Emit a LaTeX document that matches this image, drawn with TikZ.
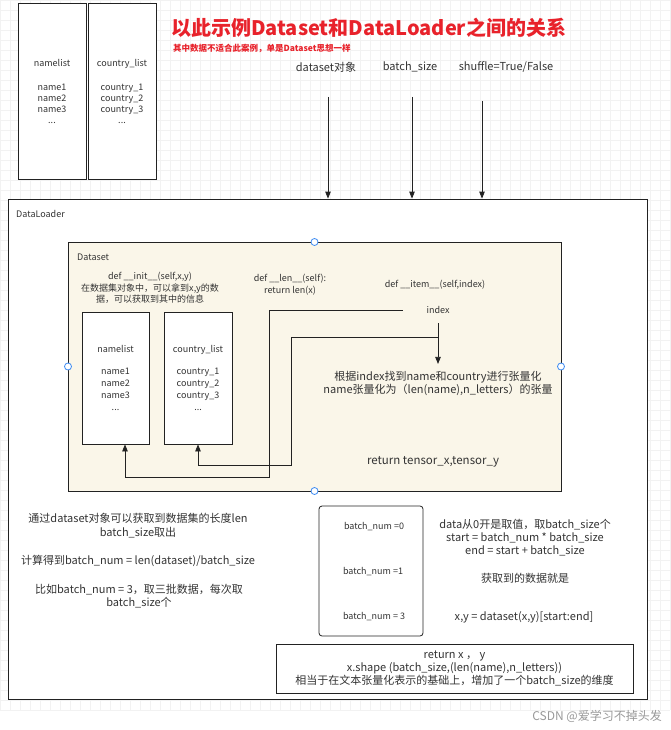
\documentclass[tikz,border=0pt]{standalone}
\usepackage{fontspec}
\setmainfont{Noto Sans CJK SC}
\usetikzlibrary{arrows.meta,calc}
\definecolor{tc}{HTML}{333333}
\definecolor{ln}{HTML}{222222}
\definecolor{cream}{HTML}{FAF6E9}
\definecolor{titlered}{HTML}{E8222B}
\definecolor{handle}{HTML}{3D8BF2}
\definecolor{gridc}{HTML}{F2F2F2}
\tikzset{
  box/.style={draw=ln, line width=0.8pt, fill=white, inner sep=0pt, text=tc, align=center},
  txt/.style={text=tc, align=center, inner sep=0pt},
  sm/.style={font=\fontsize{9}{11.5}\selectfont},
  md/.style={font=\fontsize{11}{13.3}\selectfont},
  arr/.style={draw=ln, line width=0.8pt, -{Triangle[width=5.5pt,length=7pt]}},
  hdl/.style={draw=handle, fill=white, line width=0.8pt, circle, inner sep=0pt, minimum size=7pt}
}
\begin{document}
\begin{tikzpicture}[x=1pt,y=-1pt]
\useasboundingbox (0,0) rectangle (670,730);
\fill[white] (0,0) rectangle (670,730);
\draw[gridc, line width=0.5pt, step=10pt] (0,0) grid (670,710);

% top lists
\node[box, font=\fontsize{9}{11}\selectfont, minimum width=68pt, minimum height=176pt] (tnl) at (52,91)
  {namelist\\[13pt]name1\\name2\\name3\\...};
\node[box, font=\fontsize{9}{11}\selectfont, minimum width=68pt, minimum height=176pt] (tcl) at (122,91)
  {country\_list\\[13pt]country\_1\\country\_2\\country\_3\\...};

% title
\node[anchor=west, inner sep=0pt, text=titlered, font=\fontsize{20}{23}\selectfont\bfseries] (title) at (171,28)
  {以此示例Dataset和DataLoader之间的关系};
\node[anchor=west, inner sep=0pt, text=titlered, font=\fontsize{8.5}{10}\selectfont\bfseries] (sub) at (173,48)
  {其中数据不适合此案例，单是Dataset思想一样};

% parameter labels
\node[txt, md] (lds) at (326,67) {dataset对象};
\node[txt, md] (lbs) at (410,67) {batch\_size};
\node[txt, md] (lsh) at (506,67) {shuffle=True/False};

% DataLoader
\node[box, minimum width=639pt, minimum height=500pt] (dl) at (327.5,449) {};
\node[txt, sm, anchor=west] (dllab) at (16,214) {DataLoader};

\coordinate (a1) at (328,97);
\coordinate (a2) at (412,97);
\coordinate (a3) at (482,101);
\draw[arr] (a1) -- (a1 |- dl.north);
\draw[arr] (a2) -- (a2 |- dl.north);
\draw[arr] (a3) -- (a3 |- dl.north);

% Dataset
\node[box, fill=cream, minimum width=493pt, minimum height=249pt] (ds) at (314.5,366.5) {};
\node[txt, sm, anchor=west] (dslab) at (77,257) {Dataset};

\node[txt, sm] (init) at (150,288) {def \_\_init\_\_(self,x,y)\\在数据集对象中，可以拿到x,y的数\\据，可以获取到其中的信息};
\node[txt, sm] (len) at (290,284.5) {def \_\_len\_\_(self):\\return len(x)};
\node[txt, sm] (item) at (435,285) {def \_\_item\_\_(self,index)};

\node[box, font=\fontsize{9}{12}\selectfont, minimum width=67pt, minimum height=132pt] (inl) at (115.5,378)
  {namelist\\[10pt]name1\\name2\\name3\\...};
\node[box, font=\fontsize{9}{12}\selectfont, minimum width=68pt, minimum height=132pt] (icl) at (198,378)
  {country\_list\\[10pt]country\_1\\country\_2\\country\_3\\...};

\node[txt, sm, minimum width=70pt, minimum height=26pt] (idx) at (438,310) {index};
\node[txt, md, inner ysep=7pt] (tz) at (438,383.5)
  {根据index找到name和country进行张量化\\name张量化为（len(name),n\_letters）的张量};
\node[txt, font=\fontsize{11.5}{13}\selectfont] (ret) at (433,462) {return tensor\_x,tensor\_y};

\coordinate (j) at (438,337);
\draw[arr] (idx.south) -- (tz.north);
\draw[arr] (idx.west) -| (269,477) -| ([xshift=9.5pt]inl.south);
\draw[arr] (j) -| (291,465) -| (icl.south);

% selection handles
\node[hdl] (h1) at (314.5,242) {};
\node[hdl] (h2) at (68,366.5) {};
\node[hdl] (h3) at (561,366.5) {};
\node[hdl] (h4) at (314.5,491) {};

% bottom-left notes
\node[txt, md] (n1) at (138,525.5) {通过dataset对象可以获取到数据集的长度len\\batch\_size取出};
\node[txt, md] (n2) at (138,561) {计算得到batch\_num = len(dataset)/batch\_size};
\node[txt, md] (n3) at (139,596) {比如batch\_num = 3，取三批数据，每次取\\batch\_size个};

% batch box
\node[box, rounded corners=3pt, minimum width=104pt, minimum height=130pt] (bb) at (371,571) {};
\node[txt, sm] (b0) at (374,527) {batch\_num =0};
\node[txt, sm] (b1) at (373,572) {batch\_num =1};
\node[txt, sm] (b3) at (374,617) {batch\_num = 3};

\node[txt, md] (r1) at (525,537.5) {data从0开是取值，取batch\_size个\\start = batch\_num * batch\_size\\end = start + batch\_size};
\node[txt, md] (r2) at (525,578) {获取到的数据就是};
\node[txt, md] (r3) at (524,617) {x,y = dataset(x,y)[start:end]};

% return box
\node[box, md, minimum width=357pt, minimum height=49pt] (rb) at (454.5,668.5)
  {return x ， y\\x.shape (batch\_size,(len(name),n\_letters))\\相当于在文本张量化表示的基础上，增加了一个batch\_size的维度};

% watermark
\node[inner sep=0pt, text=black!40, font=\fontsize{12}{14}\selectfont, anchor=east] (wm) at (662,716) {CSDN @爱学习不掉头发};
\end{tikzpicture}
\end{document}
